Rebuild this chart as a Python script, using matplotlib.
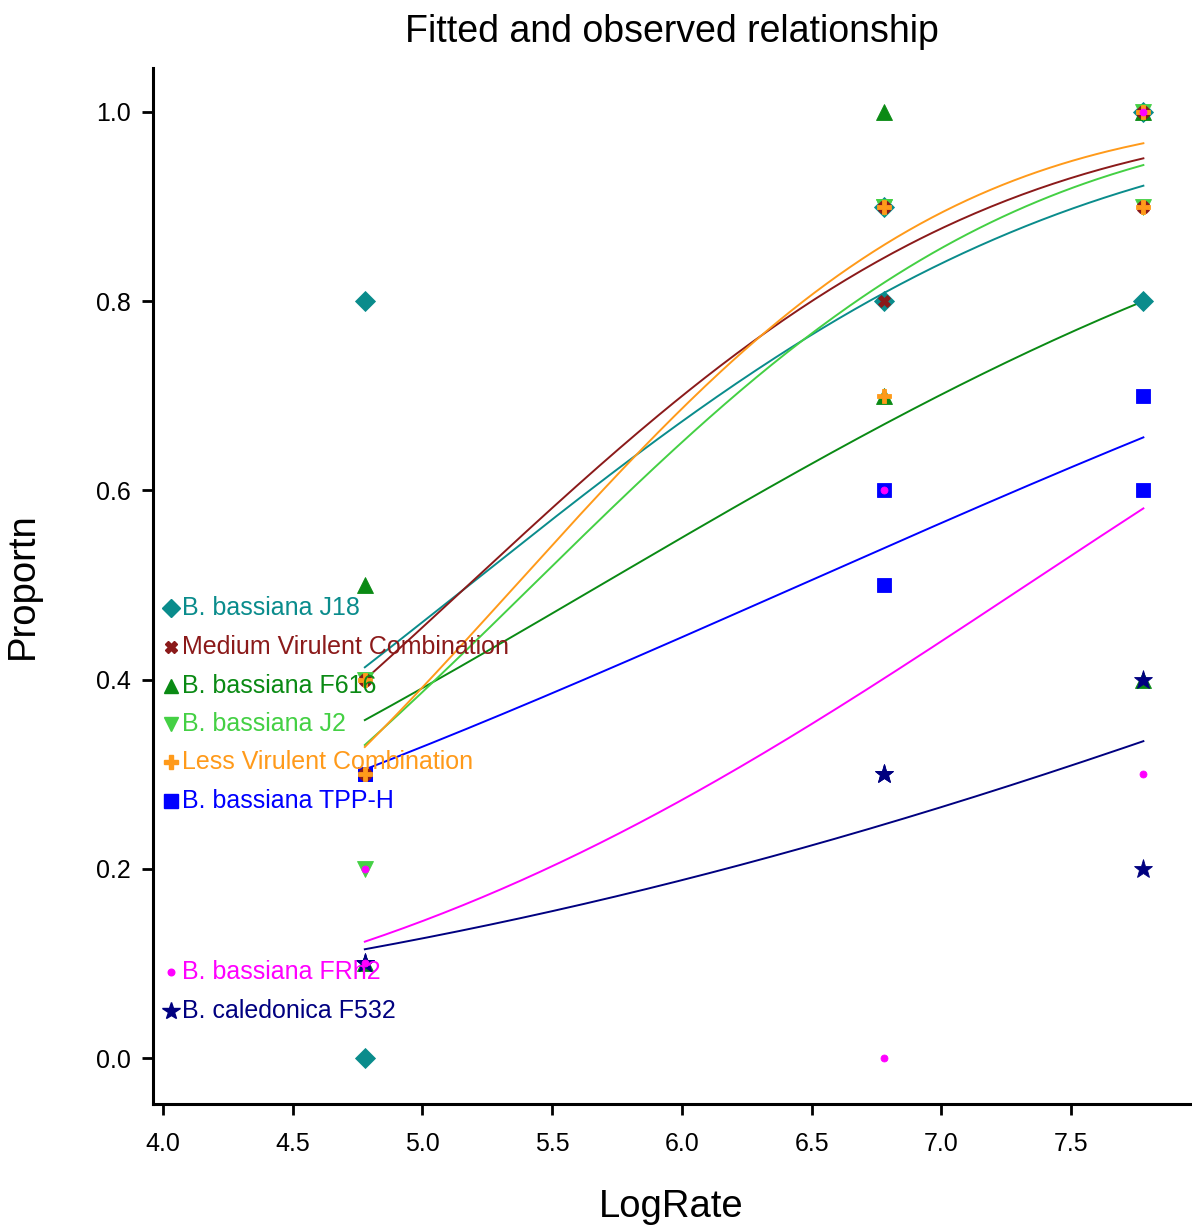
import math

import matplotlib

matplotlib.use("Agg")
import matplotlib.pyplot as plt  # noqa: E402
import numpy as np  # noqa: E402

plt.rcParams["font.family"] = ["Liberation Sans", "DejaVu Sans"]

# dose levels (log10 of spore rate)
log_rates = [4.778, 6.778, 7.778]

series_names = [
    "B. bassiana J18",
    "Medium Virulent Combination",
    "B. bassiana F616",
    "B. bassiana J2",
    "Less Virulent Combination",
    "B. bassiana TPP-H",
    "B. bassiana FRh2",
    "B. caledonica F532",
]
series_colors = ["#0a8c8c", "#8b1a1a", "#0a8a14", "#44d044", "#ff9a1a", "#0000ff", "#ff00ff", "#000080"]
series_markers = ["D", "X", "^", "v", "P", "s", "o", "*"]

# observed proportions, two replicates per dose
obs_j18 = [[0.8, 0.0], [0.9, 0.8], [1.0, 0.8]]
obs_medium = [[0.4, 0.3], [0.9, 0.8], [1.0, 0.9]]
obs_f616 = [[0.5, 0.1], [1.0, 0.7], [1.0, 0.4]]
obs_j2 = [[0.4, 0.2], [0.9, 0.9], [1.0, 0.9]]
obs_less = [[0.4, 0.3], [0.9, 0.7], [1.0, 0.9]]
obs_tpph = [[0.3, 0.3], [0.6, 0.5], [0.7, 0.6]]
obs_frh2 = [[0.2, 0.1], [0.6, 0.0], [1.0, 0.3]]
obs_f532 = [[0.1, 0.1], [0.3, 0.3], [0.4, 0.2]]
observed = [obs_j18, obs_medium, obs_f616, obs_j2, obs_less, obs_tpph, obs_frh2, obs_f532]

# fitted probit model: probit(p) = intercept + slope * LogRate
fit_intercept = [-2.830, -3.293, -2.289, -3.664, -4.076, -1.962, -3.333, -2.433]
fit_slope = [0.5463, 0.6361, 0.4025, 0.6753, 0.7603, 0.3039, 0.4548, 0.2580]

# label anchors (y in data units) for the series key
label_y = [0.476, 0.435, 0.393, 0.353, 0.313, 0.272, 0.091, 0.050]

marker_sizes = {"D": 10, "X": 9, "^": 11, "v": 11, "P": 10, "s": 10.5, "o": 5, "*": 14}
# squares/pluses go underneath so the smaller marks inside stay visible
draw_order = [5, 0, 2, 3, 1, 4, 7, 6]


def norm_cdf(z):
    return 0.5 * (1.0 + np.vectorize(math.erf)(z / math.sqrt(2.0)))


fig = plt.figure(figsize=(11.92, 12.27), dpi=100)
ax = fig.add_axes([0.1284, 0.1002, 0.8700, 0.8444])

xs = np.linspace(log_rates[0], log_rates[-1], 200)
for name, color, a, b in zip(series_names, series_colors, fit_intercept, fit_slope):
    ax.plot(xs, norm_cdf(a + b * xs), color=color, lw=1.4, zorder=2)

for z, i in enumerate(draw_order):
    obs, color, marker = observed[i], series_colors[i], series_markers[i]
    for x, reps in zip(log_rates, obs):
        ax.plot([x] * len(reps), reps, ls="none", marker=marker, color=color,
                markersize=marker_sizes[marker], markeredgewidth=0.6, zorder=3 + z * 0.01)

for name, color, marker, y in zip(series_names, series_colors, series_markers, label_y):
    ax.plot([4.031], [y], ls="none", marker=marker, color=color,
            markersize=marker_sizes[marker] * 0.95, zorder=4, clip_on=False)
    ax.text(4.075, y, name, color=color, fontsize=18, ha="left", va="center", zorder=4)

ax.set_xlim(3.962, 7.958)
ax.set_ylim(-0.0486, 1.0465)
ax.set_xticks(np.arange(4.0, 7.51, 0.5))
ax.set_yticks(np.arange(0.0, 1.01, 0.2))
ax.set_xticklabels([f"{v:.1f}" for v in np.arange(4.0, 7.51, 0.5)])
ax.set_yticklabels([f"{v:.1f}" for v in np.arange(0.0, 1.01, 0.2)])

for side in ("top", "right"):
    ax.spines[side].set_visible(False)
for side in ("left", "bottom"):
    ax.spines[side].set_linewidth(2.2)
ax.tick_params(axis="both", direction="out", length=8, width=2, labelsize=18, colors="black")
ax.tick_params(axis="x", pad=12)
ax.tick_params(axis="y", pad=8)

ax.set_xlabel("LogRate", fontsize=27.5, labelpad=24)
ax.set_ylabel("Proportn", fontsize=27.5, labelpad=40)
ax.set_title("Fitted and observed relationship", fontsize=27, pad=19)

fig.savefig("out.png", dpi=100)
